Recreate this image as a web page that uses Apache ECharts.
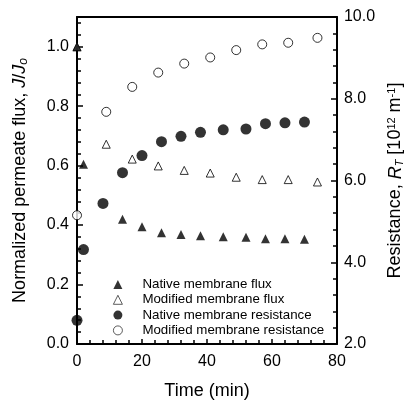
<!DOCTYPE html>
<html>
<head>
<meta charset="utf-8">
<script src="https://cdn.jsdelivr.net/npm/echarts@6/dist/echarts.min.js"></script>
<style>
  html, body { margin: 0; padding: 0; background: #fff; }
  #chart { width: 413px; height: 405px; }
</style>
</head>
<body>
<div id="chart"></div>
<script>
// data
var nativeFluxTime = [0, 2, 14, 20, 26, 32, 38, 45, 52, 58, 64, 70];
var nativeFlux = [1.0, 0.605, 0.42, 0.394, 0.374, 0.368, 0.364, 0.361, 0.359, 0.354, 0.354, 0.352];
var nativeResTime = [0, 2, 8, 14, 20, 26, 32, 38, 45, 52, 58, 64, 70];
var nativeRes = [2.58, 4.31, 5.44, 6.19, 6.61, 6.95, 7.08, 7.18, 7.24, 7.26, 7.39, 7.41, 7.43];
var modTime = [0, 9, 17, 25, 33, 41, 49, 57, 65, 74];
var modFlux = [1.0, 0.672, 0.622, 0.599, 0.584, 0.575, 0.561, 0.553, 0.553, 0.545];
var modRes = [5.15, 7.68, 8.29, 8.64, 8.86, 9.01, 9.19, 9.33, 9.37, 9.49];
var legendNames = ['Native membrane flux', 'Modified membrane flux', 'Native membrane resistance', 'Modified membrane resistance'];

function pairs(xs, ys) {
    return xs.map(function (x, i) { return [x, ys[i]]; });
}

var font = 'Liberation Sans, Arial, Helvetica, sans-serif';
var myChart = echarts.init(document.getElementById('chart'));

var openStyle = { color: '#fff', borderColor: '#000', borderWidth: 1 };
var filledStyle = { color: '#000' };

option = {
    animation: false,
    textStyle: { fontFamily: font, color: '#000' },
    grid: { left: 77, right: 75, top: 17, bottom: 55, containLabel: false },
    legend: {
        data: legendNames.map(function (n) {
            return { name: n, itemStyle: { borderWidth: n.indexOf('Modified') === 0 ? 0.8 : 0 } };
        }),
        orient: 'vertical',
        left: 108,
        top: 273,
        itemWidth: 9,
        itemHeight: 9,
        itemGap: 2.3,
        textStyle: { fontFamily: font, fontSize: 13.3, color: '#000', padding: [0, 0, 0, 15] }
    },
    xAxis: [{
        type: 'value', position: 'bottom', min: 0, max: 80, interval: 20,
        name: 'Time (min)', nameLocation: 'middle', nameGap: 38,
        nameTextStyle: { fontFamily: font, fontSize: 18, color: '#000' },
        axisLine: { lineStyle: { color: '#000', width: 2 } },
        axisTick: { inside: true, length: 5, lineStyle: { color: '#000', width: 1.5 } },
        minorTick: { show: true, splitNumber: 5, length: 4, lineStyle: { color: '#000', width: 1.5 } },
        axisLabel: { fontFamily: font, fontSize: 16, color: '#000', margin: 10 },
        splitLine: { show: false }
    }, {
        type: 'value', position: 'top', min: 0, max: 80,
        axisLine: { show: true, onZero: false, lineStyle: { color: '#000', width: 2 } },
        axisTick: { show: false }, axisLabel: { show: false }, splitLine: { show: false }
    }],
    yAxis: [{
        type: 'value', position: 'left', min: 0, max: 1.1, interval: 0.2,
        name: 'Normalized permeate flux, {i|J}/{i|J}{sub|o}',
        nameLocation: 'middle', nameGap: 47, nameRotate: 90,
        nameTextStyle: {
            fontFamily: font, fontSize: 18, color: '#000',
            rich: {
                i: { fontFamily: font, fontSize: 18, fontStyle: 'italic', color: '#000' },
                sub: { fontFamily: font, fontSize: 12, fontStyle: 'italic', color: '#000', verticalAlign: 'bottom', padding: [8, 0, 0, 0] }
            }
        },
        axisLine: { show: true, onZero: false, lineStyle: { color: '#000', width: 2 } },
        axisTick: { inside: true, length: 6, lineStyle: { color: '#000', width: 1.5 } },
        axisLabel: { fontFamily: font, fontSize: 16, color: '#000', margin: 8, showMaxLabel: false,
            formatter: function (v) { return v.toFixed(1); } },
        splitLine: { show: false }
    }, {
        type: 'value', position: 'right', min: 2, max: 10, interval: 2,
        name: 'Resistance, {i|R}{sub|T} [10{sup|12} m{sup|-1}]',
        nameLocation: 'middle', nameGap: 43, nameRotate: 90,
        nameTextStyle: {
            fontFamily: font, fontSize: 18, color: '#000',
            rich: {
                i: { fontFamily: font, fontSize: 18, fontStyle: 'italic', color: '#000' },
                sub: { fontFamily: font, fontSize: 11, fontStyle: 'italic', color: '#000', verticalAlign: 'bottom', padding: [8, 0, 0, 0] },
                sup: { fontFamily: font, fontSize: 11, color: '#000', verticalAlign: 'top', padding: [0, 0, 8, 0] }
            }
        },
        axisLine: { show: true, onZero: false, lineStyle: { color: '#000', width: 2 } },
        axisTick: { inside: true, length: 6, lineStyle: { color: '#000', width: 1.5 } },
        minorTick: { show: true, splitNumber: 5, length: 4, lineStyle: { color: '#000', width: 1.5 } },
        axisLabel: { fontFamily: font, fontSize: 16, color: '#000', margin: 7,
            formatter: function (v) { return v.toFixed(1); } },
        splitLine: { show: false }
    }, {
        // minor ticks for the flux axis (every 0.04)
        type: 'value', position: 'left', min: 0, max: 1.1, interval: 0.04,
        axisLine: { show: false },
        axisTick: { inside: true, length: 4, lineStyle: { color: '#000', width: 1.5 } },
        axisLabel: { show: false }, splitLine: { show: false }
    }],
    series: [{
        name: 'Modified membrane flux', type: 'scatter', yAxisIndex: 0,
        symbol: 'triangle', symbolSize: 8, itemStyle: openStyle,
        data: pairs(modTime, modFlux)
    }, {
        name: 'Modified membrane resistance', type: 'scatter', yAxisIndex: 1,
        symbol: 'circle', symbolSize: 9, itemStyle: openStyle,
        data: pairs(modTime, modRes)
    }, {
        name: 'Native membrane flux', type: 'scatter', yAxisIndex: 0,
        symbol: 'triangle', symbolSize: 9, itemStyle: filledStyle,
        data: pairs(nativeFluxTime, nativeFlux)
    }, {
        name: 'Native membrane resistance', type: 'scatter', yAxisIndex: 1,
        symbol: 'circle', symbolSize: 11, itemStyle: filledStyle,
        data: pairs(nativeResTime, nativeRes)
    }]
};

if (option && typeof option === "object") {
    myChart.setOption(option, true);
}
</script>
</body>
</html>
